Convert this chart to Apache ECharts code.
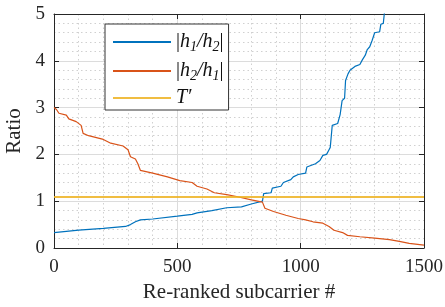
<!DOCTYPE html>
<html><head><meta charset="utf-8">
<script src="https://cdn.jsdelivr.net/npm/echarts@6/dist/echarts.min.js"></script>
<style>html,body{margin:0;padding:0;background:#fff}#c{width:445px;height:307px}</style>
</head><body><div id="c"></div>
<script>
// |h1/h2| : [re-ranked index, ratio]
const ratio12 = [[0,0.33],[100,0.38],[200,0.42],[290,0.46],[310,0.50],[330,0.56],[350,0.60],[400,0.62],[500,0.68],[560,0.72],[580,0.75],[640,0.80],[700,0.86],[760,0.88],[800,0.94],[845,1.0],[850,1.16],[880,1.18],[885,1.28],[920,1.32],[930,1.40],[960,1.46],[970,1.52],[990,1.57],[1020,1.60],[1025,1.73],[1060,1.80],[1078,1.87],[1090,1.98],[1105,2.00],[1115,2.10],[1120,2.15],[1128,2.62],[1150,2.66],[1160,2.85],[1168,3.15],[1178,3.20],[1182,3.58],[1192,3.72],[1200,3.80],[1220,3.88],[1240,3.92],[1250,4.02],[1262,4.12],[1270,4.24],[1280,4.30],[1290,4.44],[1300,4.60],[1320,4.62],[1325,4.78],[1335,4.80],[1340,5.05]];
// |h2/h1|
const ratio21 = [[0,3.0],[10,2.96],[20,2.88],[50,2.84],[60,2.76],[90,2.70],[110,2.62],[118,2.45],[140,2.40],[200,2.32],[230,2.24],[280,2.18],[300,2.10],[310,1.95],[330,1.90],[340,1.80],[350,1.66],[400,1.60],[460,1.52],[510,1.44],[560,1.40],[580,1.32],[620,1.26],[650,1.18],[700,1.14],[740,1.10],[800,1.03],[845,0.98],[855,0.85],[890,0.78],[940,0.70],[990,0.63],[1020,0.60],[1050,0.56],[1090,0.53],[1115,0.46],[1135,0.38],[1170,0.33],[1190,0.27],[1240,0.24],[1300,0.21],[1360,0.18],[1400,0.14],[1440,0.10],[1500,0.06]];
// threshold T'
const thresholdT = 1.09;
const thresholdX = [0, 1500];
const xTicks = [0, 500, 1000, 1500];
const yTicks = [0, 1, 2, 3, 4, 5];

const seriesNames = ['h12', 'h21', 'T'];
const FONT = 'Liberation Serif';
const axisColor = '#262626';

const chart = echarts.init(document.getElementById('c'), null, {renderer: 'canvas'});
const baseX = {
  type: 'value', min: xTicks[0], max: xTicks[xTicks.length-1], interval: 500,
  axisLine: {show: true, onZero: false, lineStyle: {color: axisColor, width: 1}},
  axisTick: {show: true, inside: true, length: 5, lineStyle: {color: axisColor}},
  minorTick: {show: false, splitNumber: 5},
};
const baseY = {
  type: 'value', min: yTicks[0], max: yTicks[yTicks.length-1], interval: 1,
  axisLine: {show: true, onZero: false, lineStyle: {color: axisColor, width: 1}},
  axisTick: {show: true, inside: true, length: 5, lineStyle: {color: axisColor}},
  minorTick: {show: false, splitNumber: 5},
};
const rich = {
  i: {fontFamily: FONT, fontStyle: 'italic', fontSize: 20, color: '#111', lineHeight: 28},
  s: {fontFamily: FONT, fontStyle: 'italic', fontSize: 14, color: '#111', padding: [10, 0, 0, 0], lineHeight: 28},
  n: {fontFamily: FONT, fontSize: 20, color: '#111', lineHeight: 28}
};
const labels = {
  h12: '{n||}{i|h}{s|1}{i|/h}{s|2}{n||}',
  h21: '{n||}{i|h}{s|2}{i|/h}{s|1}{n||}',
  T: '{i|T′}'
};
const labelStyle = {fontFamily: FONT, fontSize: 19, color: '#262626'};
chart.setOption({
  animation: false,
  textStyle: {fontFamily: FONT},
  grid: {left: 54, right: 21, top: 14, bottom: 59, containLabel: false, outerBoundsMode: 'none'},
  legend: {
    left: 105, top: 24, orient: 'vertical',
    data: seriesNames,
    itemWidth: 58, itemHeight: 12, itemGap: 5,
    padding: [6, 5, 2, 7],
    borderColor: '#333', borderWidth: 1, backgroundColor: '#fff',
    itemStyle: {opacity: 0},
    formatter: n => labels[n],
    textStyle: {rich: rich, fontFamily: FONT, fontSize: 20, color: '#111'}
  },
  xAxis: [
    Object.assign({}, baseX, {
      position: 'bottom',
      name: 'Re-ranked subcarrier #', nameLocation: 'middle', nameGap: 34,
      nameTextStyle: {fontFamily: FONT, fontSize: 21, color: '#262626'},
      axisLabel: Object.assign({margin: 10, formatter: v => String(v)}, labelStyle),
      splitLine: {show: true, lineStyle: {color: '#dcdcdc', width: 1}},
      minorSplitLine: {show: true, lineStyle: {color: '#d0d0d0', type: [1.5, 3], width: 1}}
    }),
    Object.assign({}, baseX, {position: 'top', axisLabel: {show: false}, splitLine: {show: false}})
  ],
  yAxis: [
    Object.assign({}, baseY, {
      position: 'left',
      name: 'Ratio', nameLocation: 'middle', nameGap: 27,
      nameTextStyle: {fontFamily: FONT, fontSize: 21, color: '#262626'},
      axisLabel: Object.assign({margin: 9, formatter: v => String(v)}, labelStyle),
      splitLine: {show: true, lineStyle: {color: '#dcdcdc', width: 1}},
      minorSplitLine: {show: true, lineStyle: {color: '#d0d0d0', type: [1.5, 3], width: 1}}
    }),
    Object.assign({}, baseY, {position: 'right', axisLabel: {show: false}, splitLine: {show: false}})
  ],
  series: [
    {name: 'h12', type: 'line', data: ratio12, symbol: 'none', clip: true,
     lineStyle: {color: '#0072BD', width: 1.2}, itemStyle: {color: '#0072BD'}},
    {name: 'h21', type: 'line', data: ratio21, symbol: 'none', clip: true,
     lineStyle: {color: '#D95319', width: 1.2}, itemStyle: {color: '#D95319'}},
    {name: 'T', type: 'line', data: thresholdX.map(x => [x, thresholdT]), symbol: 'none',
     lineStyle: {color: '#EDB120', width: 1.8, opacity: 0.85}, itemStyle: {color: '#EDB120'}}
  ]
});
</script></body></html>
